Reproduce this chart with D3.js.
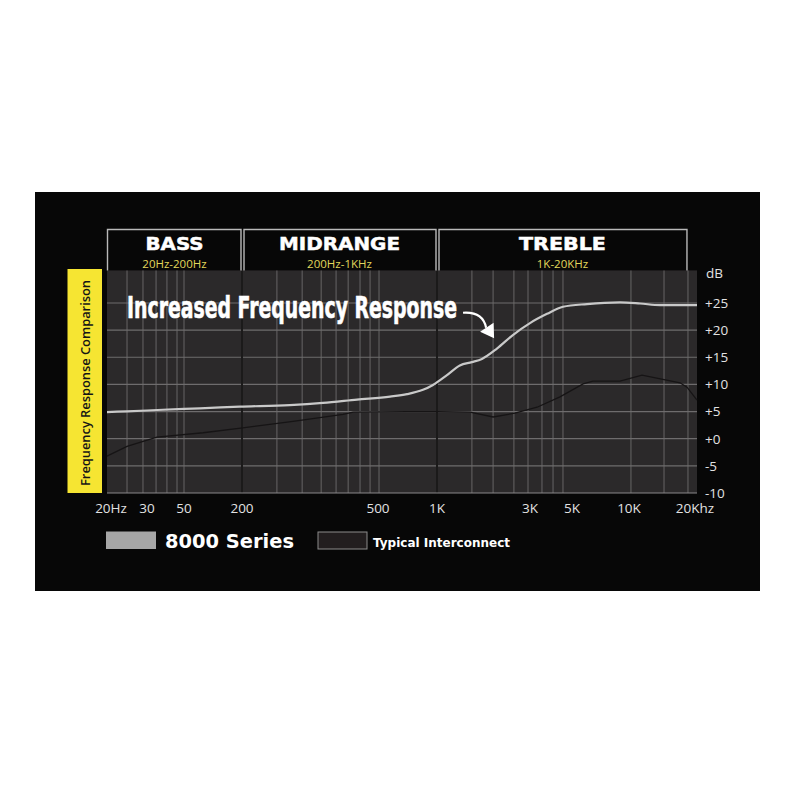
<!DOCTYPE html>
<html>
<head>
<meta charset="utf-8">
<script src="https://cdn.jsdelivr.net/npm/d3@7/dist/d3.min.js"></script>
<style>
  body { margin: 0; background: #fff; }
</style>
</head>
<body>
<script>

// x axis: the artwork spaces its labels unevenly, so the log scale is pinned at each label
var freqTicks = [20, 30, 50, 200, 500, 1000, 3000, 5000, 10000, 20000];
var freqTickLabels = ["20Hz", "30", "50", "200", "500", "1K", "3K", "5K", "10K", "20Khz"];
var dbTicks = [25, 20, 15, 10, 5, 0, -5, -10];
var dbTickLabels = ["+25", "+20", "+15", "+10", "+5", "+0", "-5", "-10"];

var gridFreqs = [24.5, 28.8, 34, 39.5, 45.4, 50, 253, 300, 341, 377, 409, 443, 474, 506,
                 1510, 1940, 2480, 2930, 3470, 3970, 4480, 10200, 14290, 18240];
var darkGridFreqs = [200, 1000];

var bandNames = ["BASS", "MIDRANGE", "TREBLE"];
var bandRanges = ["20Hz-200Hz", "200Hz-1KHz", "1K-20KHz"];
var bandEdges = [20, 200, 1000, 18240];

var seriesNames = ["8000 Series", "Typical Interconnect"];

var series8000Freq = [20, 24.5, 30, 50, 73, 190, 276, 345, 434, 576, 703, 848, 954,
                      1125, 1310, 1510, 1700, 2030, 2450, 3000, 3690, 4480, 6000, 8960, 11190, 13720, 20000];
var series8000Db   = [4.9, 5.05, 5.2, 5.5, 5.6, 5.9, 6.2, 6.6, 7.2, 7.75, 8.2, 9.0, 9.9,
                      11.7, 13.5, 14.1, 14.7, 16.6, 19.1, 21.3, 23.0, 24.3, 24.8, 25.1, 24.9, 24.6, 24.6];

var typicalFreq = [20, 24.5, 34.4, 79, 201, 282, 395, 423, 703, 1000, 1480, 1940, 2510, 3270,
                   4320, 5720, 6450, 8960, 11420, 16820, 18060, 20000];
var typicalDb   = [-3.2, -1.4, 0.3, 1.1, 2.0, 3.2, 4.5, 4.9, 5.0, 5.0, 4.9, 4.0, 4.7, 5.8,
                   7.7, 10.1, 10.6, 10.6, 11.7, 10.3, 9.5, 7.1];

// annotation anchors in data units: text start, arrow tail, arrow tip
var noteText = "Increased Frequency Response";
var noteFreq = [24.5, 1360, 1940];
var noteDb = [22.2, 23.2, 18.6];

var width = 800, height = 800;
var plotLeft = 107, plotRight = 697, plotTop = 270.4, plotBottom = 493;

var svg = d3.select("body").append("svg")
    .attr("width", width)
    .attr("height", height);

var x = d3.scaleLog()
    .domain(freqTicks)
    .range([107, 147, 184, 242, 378, 437, 530, 572, 629, 697]);

var y = d3.scaleLinear()
    .domain([-10, 31])
    .range([plotBottom, plotTop]);

// black panel
svg.append("rect")
    .attr("x", 35).attr("y", 192)
    .attr("width", 725).attr("height", 399)
    .attr("fill", "#070707");

// plot background
svg.append("rect")
    .attr("x", plotLeft).attr("y", plotTop)
    .attr("width", plotRight - plotLeft).attr("height", plotBottom - plotTop)
    .attr("fill", "#2b292a");

// grid
svg.append("g").selectAll("line")
    .data(gridFreqs)
    .enter().append("line")
    .attr("x1", function (d) { return x(d); })
    .attr("x2", function (d) { return x(d); })
    .attr("y1", plotTop).attr("y2", plotBottom)
    .attr("stroke", "#5d5b5c")
    .attr("stroke-width", 1.2);

svg.append("g").selectAll("line")
    .data(dbTicks.slice(0, -1))
    .enter().append("line")
    .attr("x1", plotLeft).attr("x2", plotRight)
    .attr("y1", function (d) { return y(d); })
    .attr("y2", function (d) { return y(d); })
    .attr("stroke", "#6e6c6d")
    .attr("stroke-width", 1.2);

svg.append("g").selectAll("line")
    .data(darkGridFreqs)
    .enter().append("line")
    .attr("x1", function (d) { return x(d); })
    .attr("x2", function (d) { return x(d); })
    .attr("y1", plotTop).attr("y2", plotBottom)
    .attr("stroke", "#1b1a1a")
    .attr("stroke-width", 2);

svg.append("line")
    .attr("x1", plotLeft).attr("x2", plotRight)
    .attr("y1", plotBottom).attr("y2", plotBottom)
    .attr("stroke", "#8a8889").attr("stroke-width", 1.2);

// band header boxes
var bands = svg.append("g").selectAll("g")
    .data(bandNames)
    .enter().append("g");

bands.append("path")
    .attr("d", function (d, i) {
        var a = x(bandEdges[i]) + (i ? 2 : 0.5), b = x(bandEdges[i + 1]) - 1;
        return "M" + a + "," + plotTop + "V229.5H" + b + "V" + plotTop;
    })
    .attr("fill", "none")
    .attr("stroke", "#b9b9b9")
    .attr("stroke-width", 1.4);

var bandWidths = [58, 121, 87];
bands.append("text")
    .attr("x", function (d, i) { return (x(bandEdges[i]) + x(bandEdges[i + 1])) / 2; })
    .attr("y", 250)
    .attr("text-anchor", "middle")
    .attr("fill", "#fff")
    .attr("font-family", "'DejaVu Sans', sans-serif")
    .attr("font-weight", "bold")
    .attr("font-size", 18.5)
    .attr("stroke", "#fff")
    .attr("stroke-width", 0.5)
    .attr("textLength", function (d, i) { return bandWidths[i]; })
    .attr("lengthAdjust", "spacingAndGlyphs")
    .text(function (d) { return d; });

bands.append("text")
    .attr("x", function (d, i) { return (x(bandEdges[i]) + x(bandEdges[i + 1])) / 2; })
    .attr("y", 267.5)
    .attr("text-anchor", "middle")
    .attr("fill", "#e2d75c")
    .attr("font-family", "'Open Sans', sans-serif")
    .attr("font-size", 11.5)
    .text(function (d, i) { return bandRanges[i]; });

// side label
svg.append("rect")
    .attr("x", 67.5).attr("y", 269)
    .attr("width", 34.5).attr("height", 224)
    .attr("fill", "#f6e532");

svg.append("text")
    .attr("transform", "translate(89.5,383) rotate(-90)")
    .attr("text-anchor", "middle")
    .attr("fill", "#151515")
    .attr("font-family", "'Open Sans', sans-serif")
    .attr("font-weight", 600)
    .attr("font-size", 12.5)
    .attr("textLength", 206)
    .attr("lengthAdjust", "spacingAndGlyphs")
    .text("Frequency Response Comparison");

// lines
var line = d3.line()
    .x(function (d) { return x(d[0]); })
    .y(function (d) { return y(d[1]); });

svg.append("path")
    .datum(d3.zip(typicalFreq, typicalDb))
    .attr("d", line.curve(d3.curveLinear))
    .attr("fill", "none")
    .attr("stroke", "#161415")
    .attr("stroke-width", 1.3);

svg.append("path")
    .datum(d3.zip(series8000Freq, series8000Db))
    .attr("d", line.curve(d3.curveMonotoneX))
    .attr("fill", "none")
    .attr("stroke", "#c9c9c9")
    .attr("stroke-width", 2.2);

// annotation
svg.append("text")
    .attr("x", x(noteFreq[0]))
    .attr("y", y(noteDb[0]))
    .attr("fill", "#fff")
    .attr("stroke", "#fff")
    .attr("stroke-width", 0.6)
    .attr("font-family", "'Liberation Sans Narrow', 'DejaVu Sans Condensed', sans-serif")
    .attr("font-weight", "bold")
    .attr("font-size", 30)
    .attr("textLength", 330)
    .attr("lengthAdjust", "spacingAndGlyphs")
    .text(noteText);

var sx = x(noteFreq[1]), sy = y(noteDb[1]);
var tx = x(noteFreq[2]), ty = y(noteDb[2]);
svg.append("path")
    .attr("d", "M" + sx + "," + sy +
        "C" + (sx + 15) + "," + (sy - 1) + " " + (tx - 9) + "," + (ty - 20) + " " + (tx - 7) + "," + (ty - 10))
    .attr("fill", "none")
    .attr("stroke", "#fff")
    .attr("stroke-width", 2.2);

svg.append("path")
    .attr("d", "M" + (tx + 1) + "," + (ty + 0.5) +
        "L" + (tx - 13) + "," + (ty - 6) +
        "L" + (tx + 0.5) + "," + (ty - 15) + "Z")
    .attr("fill", "#fff");

// axis labels
svg.append("g").selectAll("text")
    .data(freqTicks)
    .enter().append("text")
    .attr("x", function (d, i) { return x(d) + (i === 0 ? 4 : i === freqTicks.length - 1 ? -2 : 0); })
    .attr("y", 513)
    .attr("text-anchor", "middle")
    .attr("fill", "#e2e2e2")
    .attr("font-family", "'Open Sans', sans-serif")
    .attr("font-size", 13.5)
    .text(function (d, i) { return freqTickLabels[i]; });

svg.append("g").selectAll("text")
    .data(dbTicks)
    .enter().append("text")
    .attr("x", 705)
    .attr("y", function (d) { return y(d); })
    .attr("dy", "0.36em")
    .attr("fill", "#e2e2e2")
    .attr("font-family", "'Open Sans', sans-serif")
    .attr("font-size", 13.5)
    .text(function (d, i) { return dbTickLabels[i]; });

svg.append("text")
    .attr("x", 706).attr("y", 278)
    .attr("fill", "#e2e2e2")
    .attr("font-family", "'Open Sans', sans-serif")
    .attr("font-size", 13.5)
    .text("dB");

// legend
svg.append("rect")
    .attr("x", 106).attr("y", 531.5)
    .attr("width", 50).attr("height", 17.5)
    .attr("fill", "#a6a6a6");

svg.append("text")
    .attr("x", 165).attr("y", 548)
    .attr("fill", "#fff")
    .attr("font-family", "'DejaVu Sans', sans-serif")
    .attr("font-weight", "bold")
    .attr("font-size", 20)
    .attr("textLength", 129)
    .attr("lengthAdjust", "spacingAndGlyphs")
    .text(seriesNames[0]);

svg.append("rect")
    .attr("x", 318).attr("y", 532)
    .attr("width", 49).attr("height", 17)
    .attr("fill", "#221e1f")
    .attr("stroke", "#8c8c8c")
    .attr("stroke-width", 1);

svg.append("text")
    .attr("x", 373).attr("y", 547)
    .attr("fill", "#fff")
    .attr("font-family", "'DejaVu Sans', sans-serif")
    .attr("font-weight", "bold")
    .attr("font-size", 11.5)
    .attr("textLength", 137)
    .attr("lengthAdjust", "spacingAndGlyphs")
    .text(seriesNames[1]);

</script>
</body>
</html>
